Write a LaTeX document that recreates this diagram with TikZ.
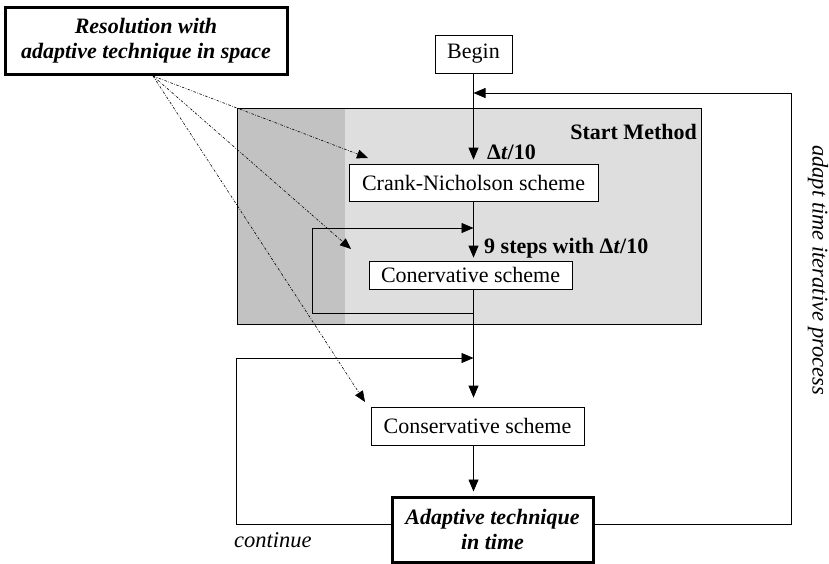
\documentclass[tikz,border=0pt]{standalone}
\usepackage{fontspec}
\setmainfont{Liberation Serif}
\usetikzlibrary{arrows.meta}
\begin{document}
\begin{tikzpicture}[x=1pt,y=-1pt,
  box/.style={draw, line width=0.8pt, inner sep=0pt, align=center, fill=white,
    font=\fontsize{22}{25}\selectfont},
  heavybox/.style={box, line width=3pt, font=\fontsize{22}{24.5}\selectfont\bfseries\itshape},
  flow/.style={line width=0.8pt, -{Triangle[length=12pt,width=10pt]}},
  spaceline/.style={line width=0.6pt, dash pattern=on 2.5pt off 1.5pt on 0.7pt off 1.5pt,
    -{Triangle[length=11pt,width=9pt]}},
  lbl/.style={inner sep=0pt, font=\fontsize{22}{25}\selectfont\bfseries},
  note/.style={inner sep=0pt, font=\fontsize{22.5}{25}\selectfont\itshape}]
\useasboundingbox (0,0) rectangle (829,563);
% Start method region
\fill[black!24] (237,108) rectangle (345,324);
\fill[black!13] (345,108) rectangle (701,324);
\draw[line width=0.8pt] (237,108) rectangle (701,324);
\node[lbl, anchor=east] (startlbl) at (697,132) {Start Method};
% boxes
\node[heavybox, minimum width=282pt, minimum height=67pt] (res) at (146,40.5)
  {Resolution with\\adaptive technique in space};
\node[box, minimum width=77pt, minimum height=38pt] (begin) at (473.5,54) {Begin};
\node[box, minimum width=249pt, minimum height=37pt] (crank) at (473.5,182.5) {Crank-Nicholson scheme};
\node[box, minimum width=203pt, minimum height=28pt] (cons1) at (470.5,275) {Conervative scheme};
\node[box, minimum width=213pt, minimum height=38pt] (cons2) at (477.5,426) {Conservative scheme};
\node[heavybox, minimum width=201pt, minimum height=65pt] (adapt) at (492.5,529.5)
  {Adaptive technique\\in time};
% labels
\node[lbl, anchor=west] (dt1) at (487,152) {Δ\textit{t}/10};
\node[lbl, anchor=west] (dt9) at (484,248) {9 steps with Δ\textit{t}/10};
\node[note, anchor=west] (cont) at (234,540) {continue};
\node[note, rotate=-90] (adaptlbl) at (818,270) {adapt time iterative process};
% coordinates
\coordinate (rc) at (791,93);
\coordinate (l1a) at (473.5,313);
\coordinate (l1c) at (312,228);
\coordinate (l2c) at (236,358);
\coordinate (ro) at (153,76);
\coordinate (t1) at (368,158);
\coordinate (t2) at (351,249);
\coordinate (t3) at (365,402);
% main flow
\draw[flow, shorten >=4pt] (begin.south) -- (crank.north);
\draw[flow, shorten >=3pt] (crank.south) -- (crank.south |- cons1.north);
\draw[flow, shorten >=9pt] (crank.south |- cons1.south) -- (crank.south |- cons2.north);
\draw[flow, shorten >=4pt] (crank.south |- cons2.south) -- (crank.south |- adapt.north);
% loops
\draw[flow] (l1a) -| (l1c) -- (crank.south |- l1c);
\draw[flow] ([yshift=5.5pt]adapt.west) -| (l2c) -- (crank.south |- l2c);
\draw[flow] ([yshift=5.5pt]adapt.east) -| (rc) -- (begin.south |- rc);
% space adaptation links
\draw[spaceline] (ro) -- (t1);
\draw[spaceline] (ro) -- (t2);
\draw[spaceline] (ro) -- (t3);
\end{tikzpicture}
\end{document}
